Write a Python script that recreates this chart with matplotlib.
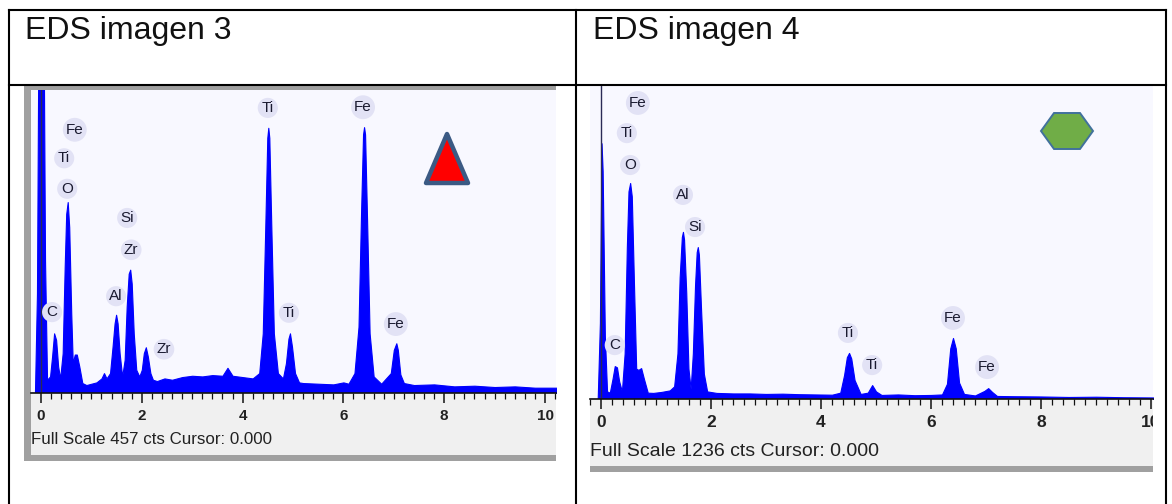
import matplotlib
matplotlib.use('Agg')
import matplotlib.pyplot as plt
from matplotlib.lines import Line2D
from matplotlib.patches import Rectangle, Polygon
from matplotlib.transforms import Affine2D
from matplotlib.ticker import MultipleLocator

plt.rcParams['font.family'] = ['Liberation Sans', 'DejaVu Sans']

W, H = 1172, 504

# --- spectrum 3 (full scale 457 cts) ---
e3 = [-0.2, -0.12, -0.08, -0.04, 0.04, 0.08, 0.12, 0.18, 0.22, 0.26, 0.30, 0.34, 0.38, 0.43,
      0.47, 0.50, 0.53, 0.56, 0.60, 0.63, 0.67, 0.71, 0.76, 0.82, 0.9, 1.0, 1.1, 1.2, 1.25,
      1.3, 1.37, 1.42, 1.46, 1.49, 1.52, 1.56, 1.61, 1.66, 1.70, 1.74, 1.77, 1.80, 1.84,
      1.89, 1.95, 2.0, 2.04, 2.08, 2.12, 2.17, 2.22, 2.3, 2.45, 2.6, 2.8, 3.0, 3.2, 3.4,
      3.6, 3.7, 3.8, 4.0, 4.2, 4.33, 4.40, 4.45, 4.49, 4.51, 4.53, 4.57, 4.62, 4.70, 4.80,
      4.86, 4.91, 4.94, 4.98, 5.04, 5.12, 5.2, 5.5, 5.8, 6.0, 6.1, 6.22, 6.30, 6.35, 6.39,
      6.41, 6.43, 6.47, 6.52, 6.60, 6.75, 6.94, 7.00, 7.05, 7.08, 7.13, 7.2, 7.4, 7.8, 8.2,
      8.6, 9.0, 9.4, 9.8, 10.3]
c3 = [0, 0, 150, 700, 700, 200, 20, 25, 55, 90, 80, 40, 22, 60,
      190, 270, 288, 250, 120, 45, 58, 58, 40, 15, 12, 14, 16, 22, 30,
      22, 30, 70, 105, 118, 105, 60, 25, 50, 130, 180, 186, 165, 90,
      35, 25, 35, 60, 69, 55, 30, 20, 18, 22, 20, 24, 26, 25, 27,
      26, 38, 26, 24, 22, 30, 90, 250, 385, 400, 385, 250, 90, 30, 22,
      45, 82, 90, 70, 30, 16, 15, 14, 13, 16, 14, 30, 100, 270, 390,
      401, 390, 260, 90, 25, 14, 30, 65, 75, 65, 28, 15, 12, 13, 10,
      11, 9, 10, 8, 8]
lab3 = ['Fe', 'Ti', 'O', 'C', 'Si', 'Zr', 'Al', 'Zr', 'Ti', 'Ti', 'Fe', 'Fe']
lab3_e = [0.67, 0.46, 0.52, 0.22, 1.71, 1.79, 1.49, 2.44, 4.50, 4.92, 6.39, 7.04]
lab3_c = [397, 354, 308, 122, 264, 216, 146, 66, 430, 121, 431, 104]

# --- spectrum 4 (full scale 1236 cts) ---
e4 = [-0.2, -0.06, -0.02, 0.01, 0.03, 0.07, 0.11, 0.16, 0.21, 0.25, 0.29, 0.33, 0.38, 0.43,
      0.47, 0.50, 0.53, 0.56, 0.60, 0.64, 0.68, 0.73, 0.78, 0.85, 0.95, 1.1, 1.25, 1.33,
      1.39, 1.43, 1.47, 1.49, 1.51, 1.55, 1.59, 1.63, 1.67, 1.71, 1.74, 1.76, 1.78, 1.82,
      1.87, 1.93, 2.1, 2.4, 2.7, 3.0, 3.3, 3.6, 3.9, 4.2, 4.35, 4.42, 4.47, 4.51, 4.55,
      4.61, 4.72, 4.85, 4.93, 5.0, 5.1, 5.4, 5.7, 6.0, 6.2, 6.29, 6.35, 6.40, 6.45, 6.51,
      6.60, 6.8, 6.97, 7.04, 7.11, 7.2, 7.5, 8.0, 8.5, 9.0, 9.5, 10.1]
c4 = [0, 0, 300, 1010, 900, 250, 30, 25, 80, 130, 125, 70, 30, 180,
      600, 820, 853, 800, 450, 120, 115, 122, 80, 25, 24, 28, 34, 50,
      180, 480, 640, 660, 630, 420, 120, 40, 180, 450, 580, 600, 570, 350,
      100, 30, 24, 22, 22, 20, 21, 19, 18, 17, 25, 95, 165, 182, 160,
      75, 20, 25, 55, 30, 16, 18, 15, 16, 18, 60, 200, 241, 200, 65,
      20, 14, 32, 43, 28, 12, 11, 10, 8, 9, 7, 6]
lab4 = ['Fe', 'Ti', 'O', 'Al', 'Si', 'C', 'Ti', 'Ti', 'Fe', 'Fe']
lab4_e = [0.67, 0.47, 0.53, 1.49, 1.71, 0.25, 4.49, 4.93, 6.40, 7.02]
lab4_c = [1169, 1050, 924, 806, 679, 213, 261, 134, 320, 126]

tick_vals = [0, 2, 4, 6, 8, 10]

fig = plt.figure(figsize=(W / 100, H / 100), dpi=100)
fig.patch.set_facecolor('white')
PX = Affine2D().scale(1 / W, -1 / H).translate(0, 1) + fig.transFigure


def px_axes(x0, y0, x1, y1, **kw):
    return fig.add_axes([x0 / W, 1 - y1 / H, (x1 - x0) / W, (y1 - y0) / H], **kw)


def rect(x0, y0, x1, y1, color, z=-1):
    fig.add_artist(Rectangle((x0, y0), x1 - x0, y1 - y0, transform=PX,
                             facecolor=color, edgecolor='none', zorder=z))


def panel(x0, top, x1, axis_y, bar_y, xlim, full, e, c, labs, le, lc, caption,
          tick_fs, cap_fs, lab_dy, cap_dy):
    ax = px_axes(x0, top, x1, axis_y, facecolor='#f8f8ff')
    ax.fill_between(e, c, 0, color='#0000ff', lw=0.8, edgecolor='#0000ff')
    ax.axvline(0, color='#2a2a55', lw=1.0, zorder=3)
    for t, xe, yc in zip(labs, le, lc):
        ax.text(xe, yc, t, ha='center', va='center', fontsize=11, color='#1a1a30',
                bbox=dict(boxstyle='circle,pad=0.2', fc='#e2e2f5', ec='none'), zorder=5)
    ax.set_xlim(*xlim)
    ax.set_ylim(0, full)
    ax.set_xticks([])
    ax.set_yticks([])
    for s in ax.spines.values():
        s.set_visible(False)

    bar = px_axes(x0, axis_y, x1, bar_y, facecolor='#f0f0f0')
    bar.set_xlim(*xlim)
    bar.set_ylim(0, 1)
    for k, s in bar.spines.items():
        s.set_visible(k == 'top')
    bar.spines['top'].set_linewidth(1.2)
    bar.spines['top'].set_color('#111111')
    bar.xaxis.tick_top()
    bar.xaxis.set_major_locator(MultipleLocator(2))
    bar.xaxis.set_minor_locator(MultipleLocator(0.2))
    bar.tick_params(axis='x', which='major', direction='in', length=7, width=1.1,
                    color='#111111', labeltop=False)
    bar.tick_params(axis='x', which='minor', direction='in', length=4, width=0.9,
                    color='#111111')
    bar.set_yticks([])
    hgt = bar_y - axis_y
    for v in tick_vals:
        bar.text(v, 1 - lab_dy / hgt, str(v), ha='center', va='center', fontsize=tick_fs,
                 fontweight='bold', color='#222222', clip_on=True)
    bar.text(0.0, 1 - cap_dy / hgt, caption, transform=bar.transAxes, ha='left',
             va='center', fontsize=cap_fs, color='#222222')
    return ax


# left screenshot: grey frame, then plot
rect(24, 85, 556, 461, '#a0a0a0')
px_to_e3 = lambda x: (x - 41) / 50.4
ax3 = panel(31, 90, 556, 393, 455, (px_to_e3(31), px_to_e3(556)), 457, e3, c3,
            lab3, lab3_e, lab3_c, 'Full Scale 457 cts Cursor: 0.000', 11, 12.2, 22.5, 47)

# right screenshot
rect(590, 466, 1153, 472, '#a0a0a0')
px_to_e4 = lambda x: (x - 601) / 55.0
ax4 = panel(590, 86, 1153, 399, 466, (px_to_e4(590), px_to_e4(1153)), 1236, e4, c4,
            lab4, lab4_e, lab4_c, 'Full Scale 1236 cts Cursor: 0.000', 12.5, 14, 23.5, 53)

# markers drawn on the screenshots
fig.add_artist(Polygon([(447, 134), (426, 183), (468, 183)], closed=True, transform=PX,
                       facecolor='#ff0000', edgecolor='#3b5a84', lw=3.2, joinstyle='round',
                       zorder=6))
fig.add_artist(Polygon([(1041, 131), (1054, 113), (1080, 113), (1093, 131), (1080, 149),
                        (1054, 149)], closed=True, transform=PX,
                       facecolor='#70ad47', edgecolor='#41719c', lw=1.4, zorder=6))

# table grid
for (xa, ya), (xb, yb) in [((8.5, 10), (8.5, 504)), ((8.5, 10), (1165.5, 10)),
                           ((1165.5, 10), (1165.5, 504)), ((8.5, 85), (1165.5, 85)),
                           ((576, 10), (576, 504))]:
    fig.add_artist(Line2D([xa, xb], [ya, yb], transform=PX, color='black', lw=1.5,
                          zorder=8, solid_capstyle='projecting'))

fig.text(25 / W, 1 - 31 / H, 'EDS imagen 3', fontsize=23, ha='left', va='center',
         color='#111111')
fig.text(593 / W, 1 - 31 / H, 'EDS imagen 4', fontsize=23, ha='left', va='center',
         color='#111111')

fig.savefig('out.png', dpi=100)
